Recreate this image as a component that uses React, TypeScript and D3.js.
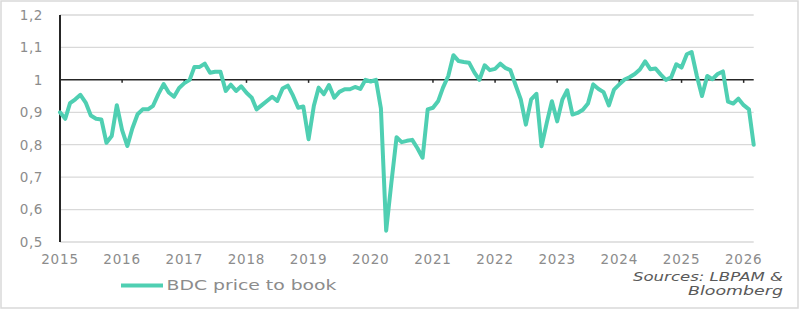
import React from "react";
import * as d3 from "d3";

const START_YEAR = 2015;
const YEARS = [2015, 2016, 2017, 2018, 2019, 2020, 2021, 2022, 2023, 2024, 2025, 2026];
const Y_TICKS = [0.5, 0.6, 0.7, 0.8, 0.9, 1.0, 1.1, 1.2];
const Y_LABELS = ["0,5", "0,6", "0,7", "0,8", "0,9", "1", "1,1", "1,2"];
const SERIES_NAME = "BDC price to book";
const SOURCE_LINES = ["Sources: LBPAM &", "Bloomberg"];

// monthly values, Jan 2015 .. Mar 2026
const VALUES = [
  0.90, 0.88, 0.928, 0.94, 0.954, 0.93, 0.89, 0.88, 0.878, 0.806, 0.827, 0.922,
  0.845, 0.796, 0.85, 0.894, 0.909, 0.909, 0.92, 0.956, 0.987, 0.961, 0.948, 0.975,
  0.99, 1.0, 1.04, 1.04, 1.05, 1.022, 1.025, 1.025, 0.966, 0.985, 0.966, 0.98,
  0.96, 0.945, 0.909, 0.922, 0.935, 0.948, 0.935, 0.973, 0.982, 0.952, 0.914, 0.918,
  0.817, 0.92, 0.976, 0.956, 0.984, 0.945, 0.963, 0.971, 0.971, 0.978, 0.972, 1.0,
  0.995, 1.0, 0.912, 0.535, 0.68, 0.823, 0.808, 0.812, 0.815, 0.79, 0.76, 0.909,
  0.914, 0.935, 0.976, 1.012, 1.076, 1.058, 1.055, 1.053, 1.023, 1.0, 1.045, 1.03,
  1.034, 1.05, 1.037, 1.03, 0.985, 0.94, 0.862, 0.94, 0.957, 0.795, 0.868, 0.934,
  0.872, 0.94, 0.968, 0.893, 0.898, 0.908, 0.927, 0.986, 0.972, 0.962, 0.921, 0.97,
  0.986, 1.001, 1.008, 1.018, 1.032, 1.057, 1.033, 1.035, 1.016, 1.0, 1.008, 1.048,
  1.038, 1.079, 1.086, 1.012, 0.95, 1.012, 1.002, 1.018, 1.026, 0.933, 0.927, 0.942,
  0.922, 0.909, 0.80,
];

const W = 801;
const H = 310;
const LEFT = 60;
const RIGHT = 753.7;
const TOP = 15;
const BOTTOM = 242;
const LINE_COLOR = "#4fcfb2";
const FONT = "'DejaVu Sans', sans-serif";

export default function App() {
  const dates = VALUES.map((_, i) => d3.timeMonth.offset(new Date(START_YEAR, 0, 1), i));
  const x = d3.scaleTime().domain([dates[0], dates[dates.length - 1]]).range([LEFT, RIGHT]);
  const y = d3.scaleLinear().domain([0.5, 1.2]).range([BOTTOM, TOP]);
  const line = d3
    .line<number>()
    .x((_, i) => x(dates[i]))
    .y((v) => y(v))
    .curve(d3.curveLinear);
  const yearX = (yr: number) => x(new Date(yr, 0, 1));

  return (
    <svg
      width={W}
      height={H}
      style={{ position: "absolute", left: 0, top: 0, background: "#fff" }}
    >
      <rect x={1} y={1} width={797} height={307} fill="#fff" stroke="#d9d9d9" strokeWidth={1.5} />
      {Y_TICKS.map((t) =>
        t === 1.0 ? null : (
          <line key={t} x1={LEFT} x2={RIGHT} y1={y(t)} y2={y(t)} stroke="#d9d9d9" strokeWidth={1.3} />
        )
      )}
      {Y_TICKS.map((t, i) => (
        <text
          key={"yl" + t}
          x={43}
          y={y(t)}
          dy="0.36em"
          textAnchor="end"
          fontFamily={FONT}
          fontSize={13.5}
          letterSpacing={0.6}
          fill="#8c8c8c"
        >
          {Y_LABELS[i]}
        </text>
      ))}
      {YEARS.map((yr) => (
        <text
          key={"xl" + yr}
          x={yearX(yr)}
          y={264}
          textAnchor="middle"
          fontFamily={FONT}
          fontSize={13.5}
          letterSpacing={0.8}
          fill="#8c8c8c"
        >
          {yr}
        </text>
      ))}
      <line x1={LEFT} x2={RIGHT} y1={y(1.0)} y2={y(1.0)} stroke="#262626" strokeWidth={1.5} />
      {YEARS.slice(1).map((yr) => (
        <line
          key={"tk" + yr}
          x1={yearX(yr)}
          x2={yearX(yr)}
          y1={y(1.0)}
          y2={y(1.0) + 3}
          stroke="#262626"
          strokeWidth={1.5}
        />
      ))}
      <line x1={LEFT} x2={LEFT} y1={TOP} y2={BOTTOM} stroke="#262626" strokeWidth={2} />
      <path
        d={line(VALUES) || ""}
        fill="none"
        stroke={LINE_COLOR}
        strokeWidth={4}
        strokeLinejoin="round"
        strokeLinecap="round"
      />
      <line x1={121} x2={163} y1={285.5} y2={285.5} stroke={LINE_COLOR} strokeWidth={4} />
      <text
        x={166.5}
        y={290}
        fontFamily={FONT}
        fontSize={14}
        fill="#8c8c8c"
        textLength={170}
        lengthAdjust="spacingAndGlyphs"
      >
        {SERIES_NAME}
      </text>
      <text
        x={783}
        y={281}
        textAnchor="end"
        fontFamily={FONT}
        fontSize={13}
        fontStyle="italic"
        fill="#595959"
        textLength={150}
        lengthAdjust="spacingAndGlyphs"
      >
        {SOURCE_LINES[0]}
      </text>
      <text
        x={783}
        y={294.5}
        textAnchor="end"
        fontFamily={FONT}
        fontSize={13}
        fontStyle="italic"
        fill="#595959"
        textLength={95}
        lengthAdjust="spacingAndGlyphs"
      >
        {SOURCE_LINES[1]}
      </text>
    </svg>
  );
}
